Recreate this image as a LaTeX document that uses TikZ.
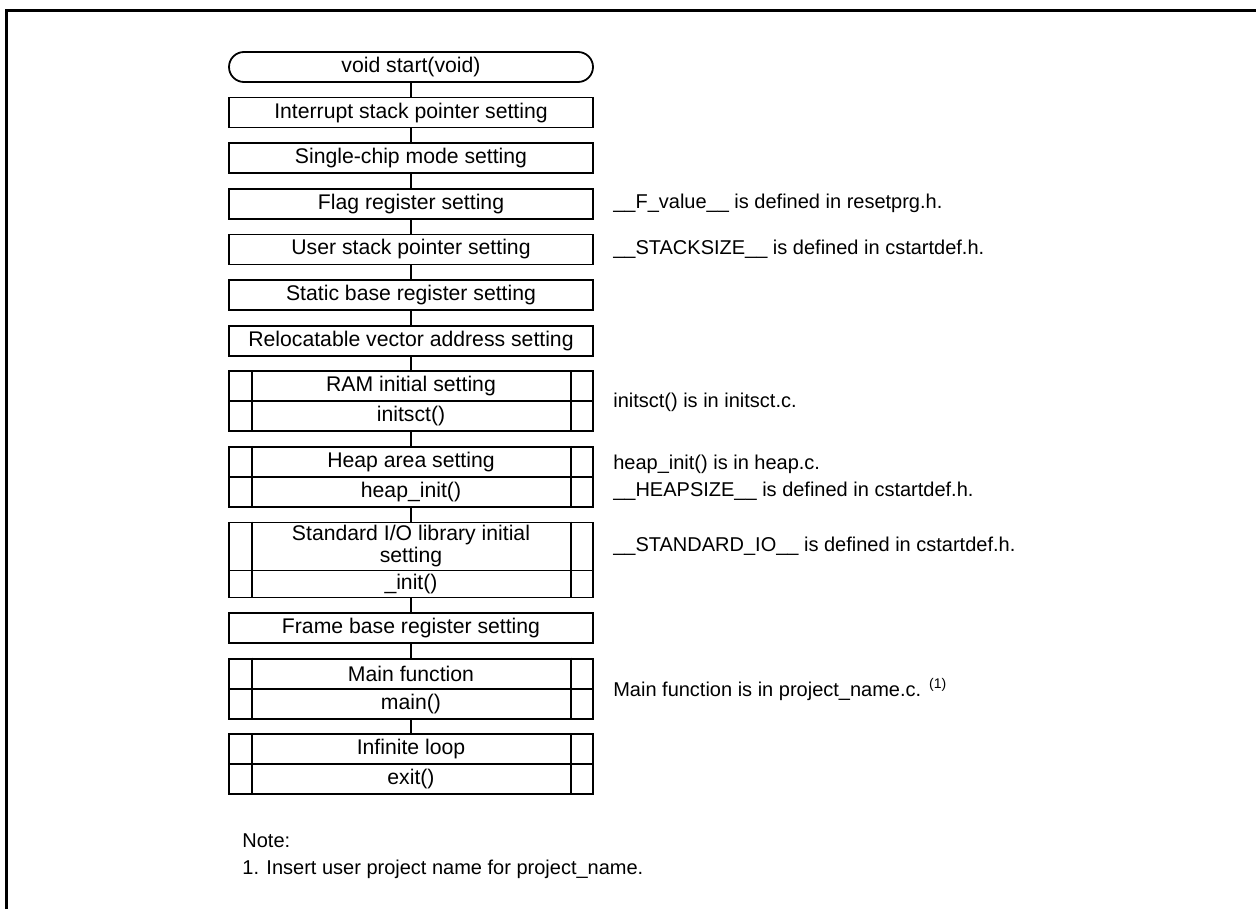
\documentclass[tikz,border=0pt]{standalone}
\usepackage{fontspec}
\setmainfont{Liberation Sans}
\usetikzlibrary{calc,positioning}

\begin{document}
\begin{tikzpicture}[x=0.5pt, y=-0.5pt, node distance=6.9pt,
  every node/.style={font=\fontsize{10.6}{11}\selectfont},
  box/.style={draw, line width=0.9pt, minimum width=182pt, minimum height=15pt, inner sep=0pt, align=center},
  term/.style={box, rounded corners=7.5pt},
  note/.style={inner sep=0pt, align=left, font=\fontsize{10}{13.5}\selectfont}]
  \useasboundingbox (0,0) rectangle (1256,909);
  \draw[line width=1.5pt] (6,909) -- (6,11) -- (1256,11);

  \node[term]                  (start) at (411,67) {void start(void)};
  \node[box, below=of start]   (isp)    {Interrupt stack pointer setting};
  \node[box, below=of isp]     (chip)   {Single-chip mode setting};
  \node[box, below=of chip]    (flag)   {Flag register setting};
  \node[box, below=of flag]    (usp)    {User stack pointer setting};
  \node[box, below=of usp]     (sb)     {Static base register setting};
  \node[box, below=of sb]      (reloc)  {Relocatable vector address setting};
  \node[box, below=of reloc]   (ram)    {RAM initial setting};
  \node[box, below=-0.9pt of ram] (ramfn)  {initsct()};
  \node[box, below=of ramfn]   (heap)   {Heap area setting};
  \node[box, below=-0.9pt of heap] (heapfn) {heap\_init()};
  \node[box, minimum height=24pt, below=of heapfn] (stdio) {Standard I/O library initial\\setting};
  \node[box, minimum height=13.5pt, below=-0.9pt of stdio] (stdiofn) {\_init()};
  \node[box, below=of stdiofn] (fb)     {Frame base register setting};
  \node[box, below=of fb]      (main)   {Main function};
  \node[box, below=-0.9pt of main] (mainfn) {main()};
  \node[box, below=of mainfn]  (loop)   {Infinite loop};
  \node[box, below=-0.9pt of loop] (exitfn) {exit()};

  % side bars of the subroutine boxes
  \foreach \t/\b in {ram/ramfn, heap/heapfn, stdio/stdiofn, main/mainfn, loop/exitfn} {
    \draw[line width=0.9pt] ($(\t.north west)+(12pt,0)$) -- ($(\b.south west)+(12pt,0)$);
    \draw[line width=0.9pt] ($(\t.north east)+(-11.5pt,0)$) -- ($(\b.south east)+(-11.5pt,0)$);
  }

  \foreach \a/\b in {start/isp, isp/chip, chip/flag, flag/usp, usp/sb, sb/reloc, reloc/ram,
                     ramfn/heap, heapfn/stdio, stdiofn/fb, fb/main, mainfn/loop}
    \draw[line width=0.9pt] (\a) -- (\b);

  \node[note, right=9.5pt of flag]             (flagnote)  {\_\_F\_value\_\_ is defined in resetprg.h.};
  \node[note, right=9.5pt of usp]              (uspnote)   {\_\_STACKSIZE\_\_ is defined in cstartdef.h.};
  \node[note, right=9.5pt of ram.south east]   (ramnote)   {initsct() is in initsct.c.};
  \node[note, right=9.5pt of heap.south east]  (heapnote)  {heap\_init() is in heap.c.\\\_\_HEAPSIZE\_\_ is defined in cstartdef.h.};
  \node[note, right=9.5pt of stdio]            (stdionote) {\_\_STANDARD\_IO\_\_ is defined in cstartdef.h.};
  \node[note, right=9.5pt of main.south east]  (mainnote)  {Main function is in project\_name.c.\hspace{4pt}\textsuperscript{(1)}};

  \node[note, anchor=north west] (notes) at (242,833) {Note:\\1. Insert user project name for project\_name.};
\end{tikzpicture}
\end{document}
